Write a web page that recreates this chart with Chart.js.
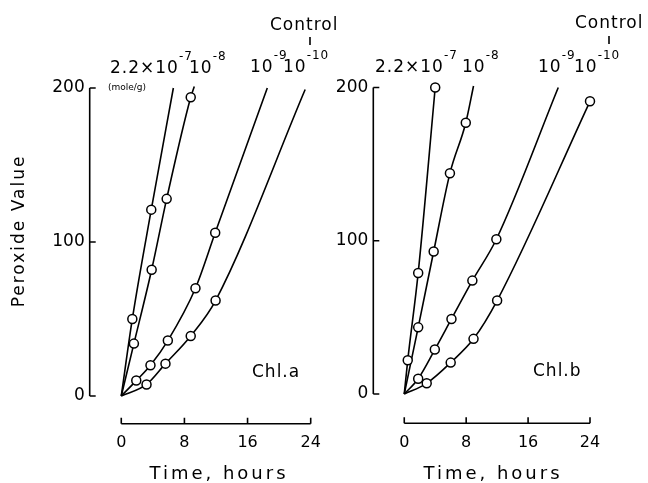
<!DOCTYPE html>
<html lang="en">
<head>
  <title>Peroxide Value vs Time, Chl.a / Chl.b</title>
  <script src="https://cdn.jsdelivr.net/npm/chart.js"></script>
  <style>
    body { margin: 0; background: #fff; overflow: hidden; }
    canvas { position: absolute; left: 0; top: 0; }
  </style>
</head>
<body>
  <canvas id="chlA" width="648" height="483"></canvas>
  <canvas id="chlB" width="648" height="483"></canvas>
  <script>
    const yTicks = [0, 100, 200];
    const xTicks = [0, 8, 16, 24];

    // Chl.a : measured points, time (hours) / peroxide value
    const aTime7 = [1.4, 3.8];                 const aPv7 = [50, 121];
    const aTime8 = [1.6, 3.85, 5.75, 8.8];     const aPv8 = [34, 82, 128, 194];
    const aTime9 = [1.9, 3.7, 5.9, 9.4, 11.9]; const aPv9 = [10, 20, 36, 70, 106];
    const aTime10 = [3.2, 5.6, 8.8, 11.95];    const aPv10 = [7.5, 21, 39, 62];
    // where each hand-drawn curve runs out at the top
    const aEnd7 = [6.6, 200];
    const aEnd8 = [9.25, 201];
    const aEnd9 = [18.5, 200];
    const aEnd10 = [23.3, 199];

    // Chl.b
    const bTime7 = [0.45, 1.8, 4.0];            const bPv7 = [22, 79, 200];
    const bTime8 = [1.8, 3.8, 5.9, 7.95];       const bPv8 = [43.5, 93, 144, 177];
    const bTime9 = [1.8, 3.95, 6.1, 8.8, 11.9]; const bPv9 = [10, 29, 49, 74, 101];
    const bTime10 = [2.9, 6.0, 8.95, 12.0, 24.0]; const bPv10 = [7, 20.5, 36, 61, 191];
    const bEnd8 = [8.95, 201];
    const bEnd9 = [19.9, 200];

    Chart.defaults.font.family = 'DejaVu Sans';
    Chart.defaults.color = '#000';

    function series(times, vals, end) {
      const pts = times.map((t, i) => ({ x: t, y: vals[i] }));
      const curve = [{ x: 0, y: 0 }].concat(pts);
      if (end) curve.push({ x: end[0], y: end[1] });
      return [
        { data: pts, showLine: false, pointRadius: 4.5, pointBackgroundColor: '#fff',
          pointBorderColor: '#000', pointBorderWidth: 1.5, clip: false, order: 0 },
        { data: curve, showLine: true, pointRadius: 0, borderColor: '#000', borderWidth: 1.6,
          cubicInterpolationMode: 'monotone', clip: false, order: 1 }
      ];
    }

    // text and small marks round each panel
    const panels = {
      chlA: {
        pows: [['2.2×10', '-7', 110, 73], ['10', '-8', 189, 73], ['10', '-9', 250, 72], ['10', '-10', 283, 72]],
        texts: [['Control', 270, 30], ['Chl.a', 252, 377]],
        small: ['(mole/g)', 108, 90],
        rule: [310, 37, 310, 45],
        xTitle: ['Time, hours', 219, 479],
        yTitle: ['Peroxide Value', 20, 231]
      },
      chlB: {
        pows: [['2.2×10', '-7', 375, 72], ['10', '-8', 462, 72], ['10', '-9', 538, 72], ['10', '-10', 574, 72]],
        texts: [['Control', 575, 28], ['Chl.b', 533, 376]],
        rule: [609, 36, 609, 44],
        xTitle: ['Time, hours', 493, 479]
      }
    };

    const decor = {
      id: 'decor',
      afterDraw(chart) {
        const d = panels[chart.canvas.id];
        const { ctx, chartArea: area, scales: { x, y } } = chart;
        ctx.save();
        ctx.strokeStyle = '#000';
        ctx.lineWidth = 1.6;
        ctx.beginPath();
        // y axis only over 0..200
        ctx.moveTo(area.left, y.getPixelForValue(yTicks[yTicks.length - 1]));
        ctx.lineTo(area.left, y.getPixelForValue(yTicks[0]));
        yTicks.forEach(v => {
          const p = y.getPixelForValue(v);
          ctx.moveTo(area.left, p); ctx.lineTo(area.left + 6, p);
        });
        // detached time axis, ticks pointing up
        ctx.moveTo(x.getPixelForValue(xTicks[0]), area.bottom);
        ctx.lineTo(x.getPixelForValue(xTicks[xTicks.length - 1]), area.bottom);
        xTicks.forEach(v => {
          const p = x.getPixelForValue(v);
          ctx.moveTo(p, area.bottom); ctx.lineTo(p, area.bottom - 6);
        });
        ctx.moveTo(d.rule[0], d.rule[1]); ctx.lineTo(d.rule[2], d.rule[3]);
        ctx.stroke();

        ctx.fillStyle = '#000';
        ctx.textBaseline = 'alphabetic';
        ctx.textAlign = 'left';
        ctx.letterSpacing = '1px';
        d.pows.forEach(([base, exp, px, py]) => {
          ctx.font = '17px "DejaVu Sans"';
          ctx.fillText(base, px, py);
          const w = ctx.measureText(base).width;
          ctx.font = '12px "DejaVu Sans"';
          ctx.fillText(exp, px + w, py - 13);
        });
        ctx.font = '17px "DejaVu Sans"';
        d.texts.forEach(([s, px, py]) => ctx.fillText(s, px, py));
        if (d.small) {
          ctx.letterSpacing = '0px';
          ctx.font = '9px "DejaVu Sans"';
          ctx.fillText(d.small[0], d.small[1], d.small[2]);
        }
        ctx.textAlign = 'center';
        ctx.font = '18px "DejaVu Sans"';
        ctx.letterSpacing = '3px';
        ctx.fillText(d.xTitle[0], d.xTitle[1], d.xTitle[2]);
        if (d.yTitle) {
          ctx.letterSpacing = '2px';
          ctx.font = '17px "DejaVu Sans"';
          ctx.translate(d.yTitle[1], d.yTitle[2]);
          ctx.rotate(-Math.PI / 2);
          ctx.textBaseline = 'middle';
          ctx.fillText(d.yTitle[0], 0, 0);
        }
        ctx.restore();
      }
    };

    function makeChart(id, datasets, yMin, yWidth, xHeight, padding) {
      new Chart(document.getElementById(id), {
        type: 'scatter',
        data: { datasets: datasets },
        options: {
          responsive: false,
          animation: false,
          events: [],
          layout: { padding: padding },
          plugins: { legend: { display: false }, tooltip: { enabled: false } },
          scales: {
            x: {
              type: 'linear', min: -4, max: 24,
              grid: { display: false, drawTicks: false },
              border: { display: false },
              ticks: { autoSkip: false, padding: 10, font: { size: 16 } },
              afterBuildTicks: s => { s.ticks = xTicks.map(v => ({ value: v })); },
              afterFit: s => { s.height = xHeight; }
            },
            y: {
              type: 'linear', min: yMin, max: 200,
              grid: { display: false, drawTicks: false },
              border: { display: false },
              ticks: { padding: 5, font: { size: 17 } },
              afterBuildTicks: s => { s.ticks = yTicks.map(v => ({ value: v })); },
              afterFit: s => { s.width = yWidth; }
            }
          }
        },
        plugins: [decor]
      });
    }

    makeChart('chlA', [].concat(
      series(aTime7, aPv7, aEnd7), series(aTime8, aPv8, aEnd8),
      series(aTime9, aPv9, aEnd9), series(aTime10, aPv10, aEnd10)
    ), -18, 89.7, 59.3, { top: 88, right: 337.3, bottom: 0, left: 0 });

    makeChart('chlB', [].concat(
      series(bTime7, bPv7, null), series(bTime8, bPv8, bEnd8),
      series(bTime9, bPv9, bEnd9), series(bTime10, bPv10, null)
    ), -19.1, 373.3, 59.7, { top: 87.5, right: 58, bottom: 0, left: 0 });
  </script>
</body>
</html>
